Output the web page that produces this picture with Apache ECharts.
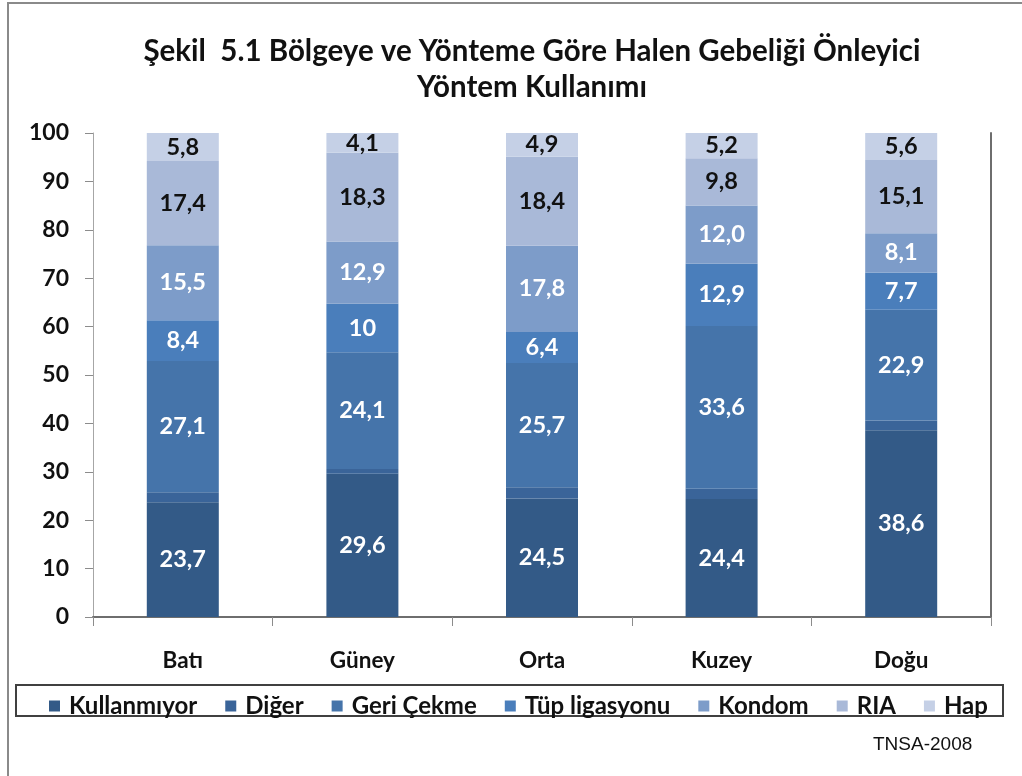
<!DOCTYPE html>
<html>
<head>
<meta charset="utf-8">
<script src="https://cdn.jsdelivr.net/npm/echarts@6/dist/echarts.min.js"></script>
<style>html,body{margin:0;padding:0;background:#fff}#c{width:1022px;height:776px}</style>
</head>
<body>
<div id="c"></div>
<script>
const categories = ['Batı', 'Güney', 'Orta', 'Kuzey', 'Doğu'];
const kullanmiyor = ['23.7', '29.6', '24.5', '24.4', '38.6'];
const diger       = ['2.1', '1.0', '2.3', '2.1', '2.0'];
const geriCekme   = ['27.1', '24.1', '25.7', '33.6', '22.9'];
const tupLigasyonu= ['8.4', '10', '6.4', '12.9', '7.7'];
const kondom      = ['15.5', '12.9', '17.8', '12.0', '8.1'];
const ria         = ['17.4', '18.3', '18.4', '9.8', '15.1'];
const hap         = ['5.8', '4.1', '4.9', '5.2', '5.6'];
const yTicks = [0, 10, 20, 30, 40, 50, 60, 70, 80, 90, 100];

const FONT = 'Lato';
const seriesDefs = [
  {name: 'Kullanmıyor', data: kullanmiyor, color: '#335a87', label: '#fff'},
  {name: 'Diğer', data: diger, color: '#3a6499', label: null},
  {name: 'Geri Çekme', data: geriCekme, color: '#4574aa', label: '#fff'},
  {name: 'Tüp ligasyonu', data: tupLigasyonu, color: '#4a7ebb', label: '#fff'},
  {name: 'Kondom', data: kondom, color: '#7d9cc9', label: '#fff'},
  {name: 'RIA', data: ria, color: '#a9b9d8', label: '#111'},
  {name: 'Hap', data: hap, color: '#c5d0e6', label: '#111'}
];

const chart = echarts.init(document.getElementById('c'), null, {renderer: 'canvas'});
chart.setOption({
  animation: false,
  backgroundColor: '#fff',
  title: {
    text: 'Şekil  5.1 Bölgeye ve Yönteme Göre Halen Gebeliği Önleyici\nYöntem Kullanımı',
    left: 527, top: 28, textAlign: 'center',
    textStyle: {fontFamily: FONT, fontWeight: 'bold', fontSize: 29.5, lineHeight: 36, color: '#111'}
  },
  legend: {
    left: 44, top: 689,
    itemWidth: 11, itemHeight: 11, itemGap: 28,
    icon: 'rect',
    textStyle: {fontFamily: FONT, fontWeight: 'bold', fontSize: 24, color: '#111', padding: [0, 0, 0, 4]},
    data: seriesDefs.map(s => s.name)
  },
  grid: {left: 93, right: 31, top: 133, bottom: 159, containLabel: false},
  xAxis: [{
    type: 'category', data: categories,
    axisLine: {lineStyle: {color: '#a6a6a6', width: 1}},
    axisTick: {show: true, alignWithLabel: false, length: 9, lineStyle: {color: '#8c8c8c'}},
    axisLabel: {margin: 32, fontFamily: FONT, fontWeight: 'bold', fontSize: 22.5, color: '#111'}
  }, {
    type: 'category', data: categories, position: 'top',
    axisLine: {show: true, lineStyle: {color: '#6e6e6e', width: 2}},
    axisTick: {show: false}, axisLabel: {show: false}
  }],
  yAxis: [{
    type: 'value', min: 0, max: 100, interval: 10,
    axisLine: {show: true, lineStyle: {color: '#a6a6a6', width: 1}},
    axisTick: {show: true, length: 8, lineStyle: {color: '#8c8c8c'}},
    splitLine: {show: false},
    axisLabel: {margin: 24, fontFamily: FONT, fontWeight: 'bold', fontSize: 23, color: '#111',
      customValues: yTicks}
  }, {
    type: 'value', min: 0, max: 100, interval: 10, position: 'right',
    axisLine: {show: true, lineStyle: {color: '#6e6e6e', width: 2}},
    axisTick: {show: false}, axisLabel: {show: false}, splitLine: {show: false}
  }],
  graphic: [
    {type: 'rect', shape: {x: 8, y: 3, width: 1100, height: 1000},
     style: {fill: 'none', stroke: '#8a8a8a', lineWidth: 2}, z: 0, silent: true},
    {type: 'rect', shape: {x: 16, y: 685, width: 987, height: 31},
     style: {fill: 'none', stroke: '#404040', lineWidth: 2}, z: 0, silent: true},
    {type: 'text', left: 873, top: 735,
     style: {text: 'TNSA-2008', fontFamily: 'Liberation Sans', fontSize: 19, fill: '#111'}}
  ],
  series: seriesDefs.map(s => ({
    name: s.name, type: 'bar', stack: 'total', barWidth: 72,
    data: s.data,
    itemStyle: {color: s.color},
    label: {
      show: !!s.label, position: 'inside',
      fontFamily: FONT, fontWeight: 'bold', fontSize: 23.5, color: s.label || '#fff',
      formatter: p => String(p.value).replace('.', ',')
    }
  }))
});
</script>
</body>
</html>
